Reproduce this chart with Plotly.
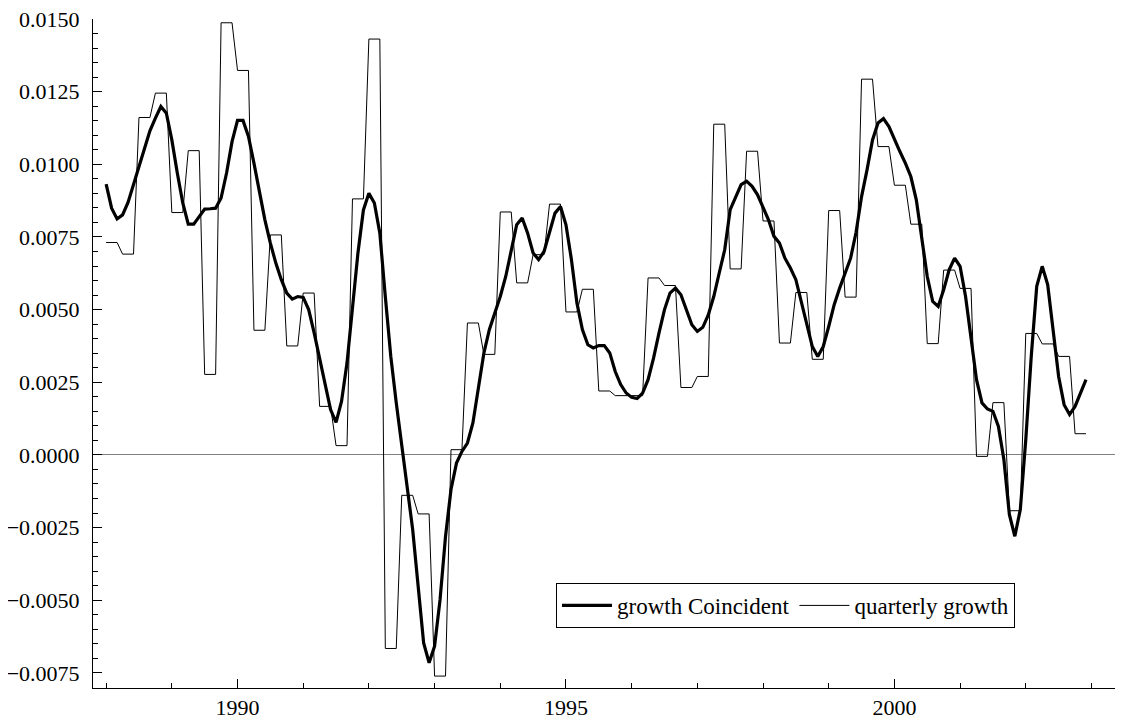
import plotly.graph_objects as go

start_year = 1988

# Quarterly growth, 1988Q1 .. 2002Q4 (each value held for the 3 months of its quarter)
quarterly_growth = [
    0.00731, 0.00691, 0.01161, 0.01245,   # 1988
    0.00834, 0.01047, 0.00277, 0.01487,   # 1989
    0.01323, 0.00429, 0.00757, 0.00375,   # 1990
    0.00557, 0.00167, 0.00032, 0.00881,   # 1991
    0.01431, -0.00666, -0.00139, -0.00203,  # 1992
    -0.00761, 0.00018, 0.00454, 0.00346,  # 1993
    0.00836, 0.00592, 0.00689, 0.00863,   # 1994
    0.00492, 0.00570, 0.00220, 0.00204,   # 1995
    0.00204, 0.00609, 0.00583, 0.00232,   # 1996
    0.00270, 0.01138, 0.00640, 0.01045,   # 1997
    0.00805, 0.00385, 0.00559, 0.00329,   # 1998
    0.00841, 0.00543, 0.01293, 0.01061,   # 1999
    0.00928, 0.00794, 0.00383, 0.00636,   # 2000
    0.00573, -0.00005, 0.00180, -0.00192,  # 2001
    0.00418, 0.00382, 0.00339, 0.00073,   # 2002
]

# Monthly growth of the coincident index, Jan 1988 .. Dec 2002
growth_coincident = [
    0.00932, 0.00849, 0.00812, 0.00826, 0.00869, 0.00930, 0.01000, 0.01061, 0.01115, 0.01159, 0.01199, 0.01176,  # 1988
    0.01084, 0.00970, 0.00867, 0.00794, 0.00794, 0.00820, 0.00846, 0.00847, 0.00849, 0.00884, 0.00970, 0.01078,  # 1989
    0.01151, 0.01151, 0.01096, 0.01004, 0.00901, 0.00809, 0.00729, 0.00660, 0.00603, 0.00557, 0.00536, 0.00545,  # 1990
    0.00542, 0.00500, 0.00420, 0.00328, 0.00236, 0.00156, 0.00112, 0.00184, 0.00316, 0.00500, 0.00695, 0.00843,  # 1991
    0.00900, 0.00867, 0.00763, 0.00545, 0.00339, 0.00179, 0.00030, -0.00108, -0.00257, -0.00452, -0.00647, -0.00715,  # 1992
    -0.00658, -0.00498, -0.00280, -0.00119, -0.00028, 0.00012, 0.00041, 0.00110, 0.00225, 0.00350, 0.00431, 0.00488,  # 1993
    0.00545, 0.00614, 0.00706, 0.00792, 0.00815, 0.00763, 0.00695, 0.00672, 0.00700, 0.00763, 0.00832, 0.00855,  # 1994
    0.00792, 0.00672, 0.00523, 0.00431, 0.00379, 0.00368, 0.00376, 0.00376, 0.00351, 0.00287, 0.00242, 0.00213,  # 1995
    0.00198, 0.00194, 0.00213, 0.00259, 0.00333, 0.00420, 0.00500, 0.00557, 0.00574, 0.00551, 0.00500, 0.00448,  # 1996
    0.00425, 0.00439, 0.00482, 0.00545, 0.00626, 0.00706, 0.00844, 0.00889, 0.00930, 0.00942, 0.00924, 0.00895,  # 1997
    0.00855, 0.00809, 0.00752, 0.00729, 0.00677, 0.00643, 0.00603, 0.00523, 0.00442, 0.00373, 0.00339, 0.00373,  # 1998
    0.00442, 0.00517, 0.00574, 0.00626, 0.00677, 0.00766, 0.00889, 0.00981, 0.01084, 0.01142, 0.01157, 0.01130,  # 1999
    0.01084, 0.01044, 0.01004, 0.00958, 0.00878, 0.00740, 0.00614, 0.00528, 0.00511, 0.00568, 0.00637, 0.00677,  # 2000
    0.00649, 0.00545, 0.00408, 0.00259, 0.00179, 0.00158, 0.00150, 0.00098, -0.00016, -0.00205, -0.00280, -0.00188,  # 2001
    0.00053, 0.00339, 0.00580, 0.00649, 0.00586, 0.00425, 0.00270, 0.00173, 0.00139, 0.00167, 0.00213, 0.00259,  # 2002
]

months_x = [start_year + m / 12 for m in range(len(growth_coincident))]
quarterly_monthly = [v for v in quarterly_growth for _ in range(3)]

FONT = "Liberation Serif, Times New Roman, serif"

fig = go.Figure()
fig.add_trace(go.Scatter(
    x=months_x, y=quarterly_monthly, mode="lines", name="quarterly growth",
    line=dict(color="black", width=1), legendrank=2,
))
fig.add_trace(go.Scatter(
    x=months_x, y=growth_coincident, mode="lines", name="growth Coincident",
    line=dict(color="black", width=3.2), legendrank=1,
))

# the page body has an 8px margin, so the figure is slightly smaller than the window
fig.update_layout(
    width=1115, height=713,
    margin=dict(l=85, r=0, t=11, b=33, autoexpand=False),
    paper_bgcolor="white", plot_bgcolor="white",
    font=dict(family=FONT, size=22, color="black"),
    showlegend=True,
    legend=dict(
        orientation="h", x=0.4495, y=0.157, xanchor="left", yanchor="top",
        bordercolor="black", borderwidth=1, bgcolor="white",
        font=dict(family=FONT, size=23, color="black"),
        itemwidth=50,
    ),
)

fig.update_xaxes(
    range=[1987.8, 2003.48], showgrid=False, zeroline=False, automargin=False,
    showline=True, linecolor="black", linewidth=1,
    ticks="inside", ticklen=9, tickcolor="black", tickwidth=1,
    tick0=1990, dtick=5, tickformat="d", ticklabeloverflow="allow",
    minor=dict(ticks="inside", ticklen=5, dtick=1, tick0=1990, tickcolor="black", showgrid=False),
)
fig.update_yaxes(
    range=[-0.00802, 0.015], showgrid=False, automargin=False,
    zeroline=True, zerolinecolor="#808080", zerolinewidth=1,
    showline=True, linecolor="black", linewidth=1,
    ticks="inside", ticklen=9, tickcolor="black", tickwidth=1,
    tick0=0, dtick=0.0025, tickformat=".4f", ticklabelstandoff=8,
    ticklabeloverflow="allow",
    minor=dict(ticks="inside", ticklen=5, dtick=0.0005, tickcolor="black", showgrid=False),
)

fig.write_html("out.html")
